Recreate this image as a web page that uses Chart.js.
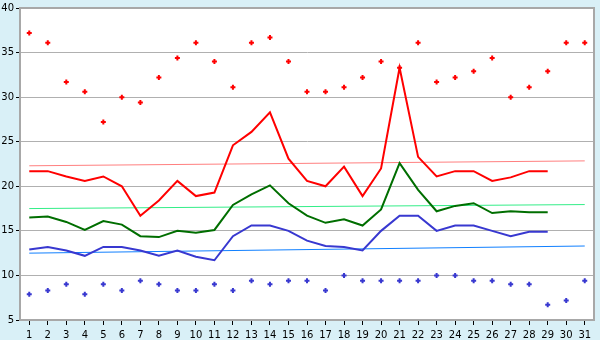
<!DOCTYPE html>
<html>
<head>
<meta charset="utf-8">
<script src="https://cdn.jsdelivr.net/npm/chart.js@4/dist/chart.umd.min.js"></script>
<style>
  html, body { margin: 0; padding: 0; background: #d9f0f7; }
  #wrap { width: 600px; height: 340px; }
</style>
</head>
<body>
<div id="wrap"><canvas id="c" width="600" height="340"></canvas></div>
<script>
  const days = ['1','2','3','4','5','6','7','8','9','10','11','12','13','14','15','16',
                '17','18','19','20','21','22','23','24','25','26','27','28','29','30','31'];
  const yTicks = [5, 10, 15, 20, 25, 30, 35, 40];

  // record high / record low per day
  const recordMax = [37.2, 36.1, 31.7, 30.6, 27.2, 30.0, 29.4, 32.2, 34.4, 36.1, 34.0, 31.1, 36.1, 36.7, 34.0, 30.6,
                     30.6, 31.1, 32.2, 34.0, 33.3, 36.1, 31.7, 32.2, 32.9, 34.4, 30.0, 31.1, 32.9, 36.1, 36.1];
  const recordMin = [7.9, 8.3, 9.0, 7.9, 9.0, 8.3, 9.4, 9.0, 8.3, 8.3, 9.0, 8.3, 9.4, 9.0, 9.4, 9.4,
                     8.3, 10.0, 9.4, 9.4, 9.4, 9.4, 10.0, 10.0, 9.4, 9.4, 9.0, 9.0, 6.7, 7.2, 9.4];

  // this month: max, mean, min
  const maxTemp = [21.7, 21.7, 21.1, 20.6, 21.1, 20.0, 16.7, 18.4, 20.6, 18.9, 19.3, 24.6, 26.1, 28.3, 23.1, 20.6,
                   20.0, 22.2, 18.9, 22.0, 33.3, 23.3, 21.1, 21.7, 21.7, 20.6, 21.0, 21.7, 21.7, null, null];
  const meanTemp = [16.5, 16.6, 16.0, 15.1, 16.1, 15.7, 14.4, 14.3, 15.0, 14.8, 15.1, 17.9, 19.1, 20.1, 18.1, 16.7,
                    15.9, 16.3, 15.6, 17.4, 22.6, 19.6, 17.2, 17.8, 18.1, 17.0, 17.2, 17.1, 17.1, null, null];
  const minTemp = [12.9, 13.2, 12.8, 12.2, 13.2, 13.2, 12.8, 12.2, 12.8, 12.1, 11.7, 14.4, 15.6, 15.6, 15.0, 13.9,
                   13.3, 13.2, 12.8, 15.0, 16.7, 16.7, 15.0, 15.6, 15.6, 15.0, 14.4, 14.9, 14.9, null, null];

  // normals, start and end of month
  const normalMax = [22.3, 22.85];
  const normalMean = [17.5, 17.95];
  const normalMin = [12.5, 13.3];

  const ends = vals => [{x: days[0], y: vals[0]}, {x: days[days.length - 1], y: vals[1]}];

  const lineDs = (data, color, width) => ({
    data: data,
    borderColor: color,
    borderWidth: width,
    pointRadius: 0,
    tension: 0,
    fill: false,
  });

  const markDs = (data, color) => ({
    data: data,
    showLine: false,
    pointStyle: 'cross',
    pointRadius: 2.5,
    borderWidth: 2,
    borderColor: color,
    backgroundColor: color,
  });

  const bgPlugin = {
    id: 'bg',
    beforeDraw(chart) {
      const ctx = chart.ctx, a = chart.chartArea;
      ctx.save();
      ctx.fillStyle = '#d9f0f7';
      ctx.fillRect(0, 0, chart.width, chart.height);
      ctx.fillStyle = '#ffffff';
      ctx.fillRect(a.left, a.top, a.right - a.left, a.bottom - a.top);
      ctx.restore();
    },
    afterDraw(chart) {
      const ctx = chart.ctx, a = chart.chartArea;
      ctx.save();
      ctx.strokeStyle = '#a8a8a8';
      ctx.lineWidth = 2;
      ctx.strokeRect(a.left, a.top, a.right - a.left, a.bottom - a.top);
      ctx.restore();
    }
  };

  new Chart(document.getElementById('c'), {
    type: 'line',
    data: {
      labels: days,
      datasets: [
        markDs(recordMax, '#ff0000'),
        markDs(recordMin, '#3838d0'),
        lineDs(maxTemp, '#ff0000', 2),
        lineDs(meanTemp, '#006e00', 2),
        lineDs(minTemp, '#3838d0', 2),
        lineDs(ends(normalMax), '#ff8080', 1),
        lineDs(ends(normalMean), '#33ee88', 1),
        lineDs(ends(normalMin), '#1080ff', 1),
      ],
    },
    options: {
      responsive: false,
      animation: false,
      layout: { padding: { top: 5, right: 5, left: 0, bottom: 0 } },
      plugins: { legend: { display: false }, tooltip: { enabled: false } },
      scales: {
        x: {
          offset: true,
          grid: { drawOnChartArea: false, offset: false, tickLength: 5, tickColor: '#000' },
          border: { color: '#a8a8a8' },
          ticks: { color: '#000', font: { family: 'DejaVu Sans', size: 10 }, padding: 4, maxRotation: 0, autoSkip: false },
          afterFit: s => { s.height = 20; },
        },
        y: {
          min: 5,
          max: 40,
          afterBuildTicks: s => { s.ticks = yTicks.map(v => ({ value: v })); },
          grid: { color: '#b0b0b0', tickLength: 4, tickColor: '#000' },
          border: { color: '#a8a8a8' },
          ticks: { color: '#000', font: { family: 'DejaVu Sans', size: 10 }, padding: 2 },
          afterFit: s => { s.width = 20; },
        },
      },
    },
    plugins: [bgPlugin],
  });
</script>
</body>
</html>
